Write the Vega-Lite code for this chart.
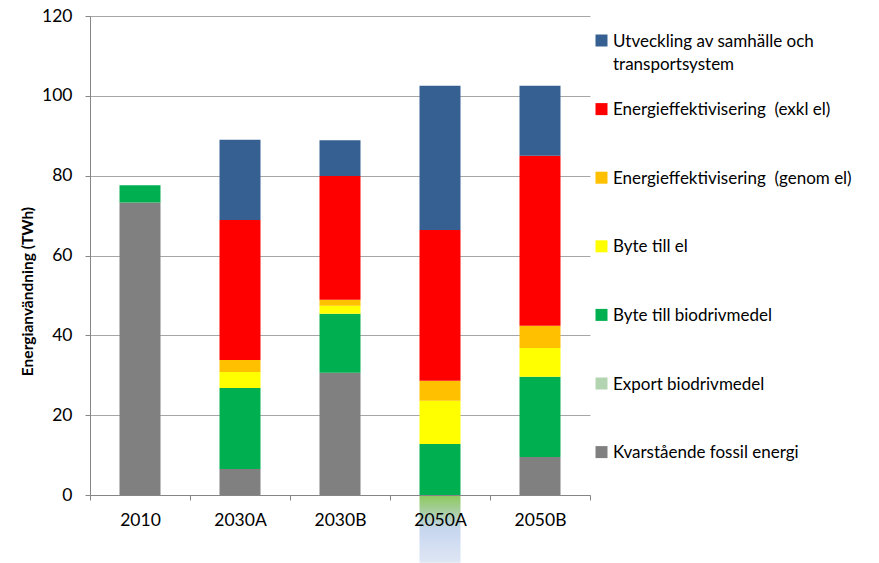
{
  "$schema": "https://vega.github.io/schema/vega-lite/v6.json",
  "autosize": "none",
  "width": 500,
  "height": 479,
  "padding": {"left": 90, "top": 16, "right": 289, "bottom": 68},
  "background": "white",
  "config": {
    "view": {"stroke": null},
    "font": "Lato",
    "axis": {"labelFont": "Lato", "titleFont": "Lato", "labelColor": "#000000", "titleColor": "#000000"}
  },
  "data": {
    "values": [
      {"scenario": "2010", "category": "Kvarstående fossil energi", "value": 73.3},
      {"scenario": "2010", "category": "Byte till biodrivmedel", "value": 4.3},
      {"scenario": "2030A", "category": "Kvarstående fossil energi", "value": 6.5},
      {"scenario": "2030A", "category": "Byte till biodrivmedel", "value": 20.3},
      {"scenario": "2030A", "category": "Byte till el", "value": 4.0},
      {"scenario": "2030A", "category": "Energieffektivisering  (genom el)", "value": 3.0},
      {"scenario": "2030A", "category": "Energieffektivisering  (exkl el)", "value": 35.1},
      {"scenario": "2030A", "category": "Utveckling av samhälle och transportsystem", "value": 20.1},
      {"scenario": "2030B", "category": "Kvarstående fossil energi", "value": 30.6},
      {"scenario": "2030B", "category": "Byte till biodrivmedel", "value": 14.8},
      {"scenario": "2030B", "category": "Byte till el", "value": 2.0},
      {"scenario": "2030B", "category": "Energieffektivisering  (genom el)", "value": 1.5},
      {"scenario": "2030B", "category": "Energieffektivisering  (exkl el)", "value": 31.0},
      {"scenario": "2030B", "category": "Utveckling av samhälle och transportsystem", "value": 9.0},
      {"scenario": "2050A", "category": "Export biodrivmedel", "value": -17},
      {"scenario": "2050A", "category": "Byte till biodrivmedel", "value": 12.8},
      {"scenario": "2050A", "category": "Byte till el", "value": 10.8},
      {"scenario": "2050A", "category": "Energieffektivisering  (genom el)", "value": 5.0},
      {"scenario": "2050A", "category": "Energieffektivisering  (exkl el)", "value": 37.8},
      {"scenario": "2050A", "category": "Utveckling av samhälle och transportsystem", "value": 36.1},
      {"scenario": "2050B", "category": "Kvarstående fossil energi", "value": 9.5},
      {"scenario": "2050B", "category": "Byte till biodrivmedel", "value": 20.1},
      {"scenario": "2050B", "category": "Byte till el", "value": 7.2},
      {"scenario": "2050B", "category": "Energieffektivisering  (genom el)", "value": 5.6},
      {"scenario": "2050B", "category": "Energieffektivisering  (exkl el)", "value": 42.6},
      {"scenario": "2050B", "category": "Utveckling av samhälle och transportsystem", "value": 17.5}
    ]
  },
  "transform": [
    {"calculate": "indexof(['Kvarstående fossil energi','Byte till biodrivmedel','Byte till el','Energieffektivisering  (genom el)','Energieffektivisering  (exkl el)','Utveckling av samhälle och transportsystem','Export biodrivmedel'], datum.category)", "as": "ord"}
  ],
  "encoding": {
    "x": {
      "field": "scenario", "type": "nominal",
      "scale": {"paddingInner": 0, "paddingOuter": 0},
      "axis": {"title": null, "labelAngle": 0, "labelFontSize": 17.5, "labelPadding": 11, "tickBand": "extent", "tickSize": 5, "domainColor": "#868686", "tickColor": "#868686", "zindex": 1, "grid": false}
    },
    "y": {
      "field": "value", "type": "quantitative", "stack": "zero",
      "scale": {"domain": [0, 120], "nice": false, "zero": false},
      "axis": {"title": "Energianvändning (TWh)", "titleFontSize": 15.5, "titleFontWeight": "bold", "titleY": 275, "titleX": -63, "titleAngle": 270, "titleAlign": "center", "titleBaseline": "middle", "values": [0, 20, 40, 60, 80, 100, 120], "labelFontSize": 17.5, "labelPadding": 13, "tickSize": 5, "domainColor": "#868686", "tickColor": "#868686", "gridColor": "#a6a6a6", "grid": true}
    }
  },
  "layer": [
    {
      "transform": [{"filter": "datum.category != 'Export biodrivmedel'"}],
      "mark": {"type": "bar", "width": {"band": 0.41}, "clip": false},
      "encoding": {
        "color": {
          "field": "category", "type": "nominal",
          "scale": {
            "domain": ["Utveckling av samhälle och transportsystem", "Energieffektivisering  (exkl el)", "Energieffektivisering  (genom el)", "Byte till el", "Byte till biodrivmedel", "Export biodrivmedel", "Kvarstående fossil energi"],
            "range": ["#376092", "#ff0000", "#ffc000", "#ffff00", "#00b050", "#b3d4b0", "#808080"]
          },
          "legend": {
            "title": null,
            "orient": "none",
            "legendX": 503,
            "legendY": 16,
            "padding": 0,
            "symbolType": "square",
            "symbolSize": 144,
            "symbolStrokeWidth": 0,
            "symbolOpacity": 1,
            "labelFontSize": 17,
            "labelFont": "Lato",
            "labelColor": "#000000",
            "labelOffset": 3,
            "labelLimit": 300,
            "rowPadding": 27.6,
            "labelBaseline": "alphabetic",
            "labelExpr": "datum.label == 'Utveckling av samhälle och transportsystem' ? ['Utveckling av samhälle och', 'transportsystem'] : [replace(datum.label, '  ', ' \u00a0'), '']",
            "encode": {
              "labels": {"update": {"dy": {"value": 6}, "lineHeight": {"value": 23}}}
            }
          }
        },
        "order": {"field": "ord", "type": "quantitative"}
      }
    },
    {
      "transform": [{"filter": "datum.category == 'Export biodrivmedel'"}],
      "mark": {"type": "bar", "width": {"band": 0.41}, "clip": false,
        "color": {"gradient": "linear", "x1": 0, "y1": 0, "x2": 0, "y2": 1, "stops": [{"offset": 0, "color": "#8cc85a"}, {"offset": 0.5, "color": "#c6d6ef"}, {"offset": 1, "color": "#dfe7f4"}]}}
    }
  ]
}
